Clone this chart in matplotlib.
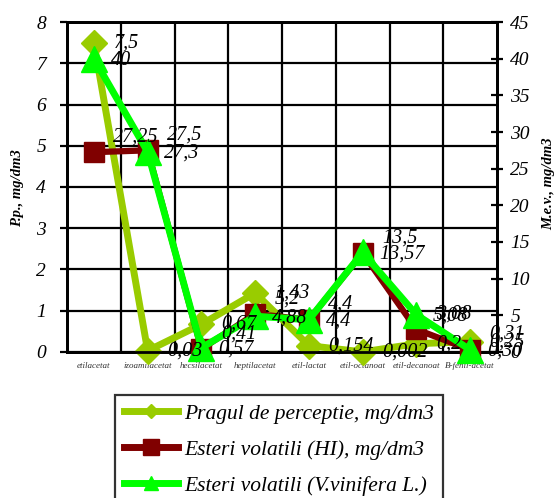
import matplotlib
matplotlib.use("Agg")
import matplotlib.pyplot as plt
from matplotlib.lines import Line2D
from matplotlib.ticker import FixedLocator

plt.rcParams['font.family'] = ['Liberation Serif', 'DejaVu Serif']

categories = ['etilacetat', 'izoamilacetat', 'hecsilacetat', 'heptilacetat',
              'etil-lactat', 'etil-octanoat', 'etil-decanoat', 'B-fenil-acetat']
pragul = [7.5, 0.03, 0.67, 1.43, 0.154, 0.002, 0.2, 0.25]
esteri_hi = [27.25, 27.5, 0.41, 5.2, 4.4, 13.5, 3.08, 0.31]
esteri_vv = [40, 27.3, 0.57, 4.88, 4.4, 13.57, 5.08, 0.30]

pragul_lbl = ['7,5', '0,03', '0,67', '1,43', '0,154', '0,002', '0,2', '0,25']
hi_lbl = ['27,25', '27,5', '0,41', '5,2', '4,4', '13,5', '3,08', '0,31']
vv_lbl = ['40', '27,3', '0,57', '4,88', '4,4', '13,57', '5,08', '0,30']

left_ticks = list(range(0, 9))
right_ticks = list(range(0, 50, 5))

C_PRAG = '#99CC00'
C_HI = '#800000'
C_VV = '#00FF00'

fig = plt.figure(figsize=(5.59, 4.98), dpi=100)
ax = fig.add_axes([0.1199, 0.2932, 0.7692, 0.6626])
ax2 = ax.twinx()

x = list(range(len(categories)))

ax.set_xlim(-0.5, len(categories) - 0.5)
ax.set_ylim(0, 8)
ax2.set_ylim(0, 45)

# grid: horizontal at left ticks, vertical between categories
ax.set_yticks(left_ticks)
ax.set_yticklabels([str(t) for t in left_ticks], fontsize=14, style='italic')
ax.set_xticks(x)
ax.set_xticklabels(categories, fontsize=6.5, style='italic', color='#333333')
ax.xaxis.set_minor_locator(FixedLocator([i + 0.5 for i in range(len(categories) - 1)]))
ax.grid(True, which='minor', axis='x', color='black', lw=1.6)
ax.grid(True, which='major', axis='y', color='black', lw=1.6)
ax.tick_params(axis='x', which='both', length=0, pad=7)
ax.tick_params(axis='y', length=5, width=1.6, pad=10)
ax.set_axisbelow(True)

ax2.set_yticks(right_ticks)
ax2.set_yticklabels([str(t) for t in right_ticks], fontsize=14, style='italic')
ax2.tick_params(axis='y', direction='inout', length=9, width=1.6, pad=5)

for a in (ax, ax2):
    for s in a.spines.values():
        s.set_linewidth(2)
        s.set_color('black')

# series
ax.plot(x, pragul, color=C_PRAG, lw=5, marker='D', ms=13, mec=C_PRAG,
        zorder=3, clip_on=False)
ax2.plot(x, esteri_hi, color=C_HI, lw=4.5, marker='s', ms=15, mec=C_HI,
         zorder=4, clip_on=False)
ax2.plot(x, esteri_vv, color=C_VV, lw=5, marker='^', ms=19, mec=C_VV,
         zorder=5, clip_on=False)

lbl_kw = dict(textcoords='offset points', ha='left', va='center',
              fontsize=14.5, style='italic', color='black', zorder=10,
              annotation_clip=False)
for xi, v, t in zip(x, pragul, pragul_lbl):
    ax2.annotate(t, (xi, v * 45 / 8), xytext=(14, 0), **lbl_kw)
for xi, v, t in zip(x, esteri_hi, hi_lbl):
    ax2.annotate(t, (xi, v), xytext=(14, 11), **lbl_kw)
for xi, v, t in zip(x, esteri_vv, vv_lbl):
    ax2.annotate(t, (xi, v), xytext=(12, -1), **lbl_kw)

fig.text(0.032, 0.622, 'P.p., mg/dm3', rotation=90, ha='center', va='center',
         fontsize=10.5, weight='bold', style='italic')
fig.text(0.982, 0.632, 'M.e.v., mg/dm3', rotation=90, ha='center', va='center',
         fontsize=10.5, weight='bold', style='italic')

handles = [
    Line2D([], [], color=C_PRAG, lw=5, marker='D', ms=7),
    Line2D([], [], color=C_HI, lw=5, marker='s', ms=11),
    Line2D([], [], color=C_VV, lw=5, marker='^', ms=10),
]
labels = ['Pragul de perceptie, mg/dm3', 'Esteri volatili (HI), mg/dm3',
          'Esteri volatili (V.vinifera L.)']
leg = fig.legend(handles, labels, loc='upper left',
                 bbox_to_anchor=(0.206, 0.207), bbox_transform=fig.transFigure,
                 borderaxespad=0, frameon=True, fancybox=False,
                 prop={'family': 'Liberation Serif', 'style': 'italic', 'size': 15.5},
                 handlelength=2.5, labelspacing=0.75, handletextpad=0.3,
                 borderpad=0.4)
leg.get_frame().set_edgecolor('black')
leg.get_frame().set_linewidth(1.6)

fig.savefig('out.png', dpi=100)
